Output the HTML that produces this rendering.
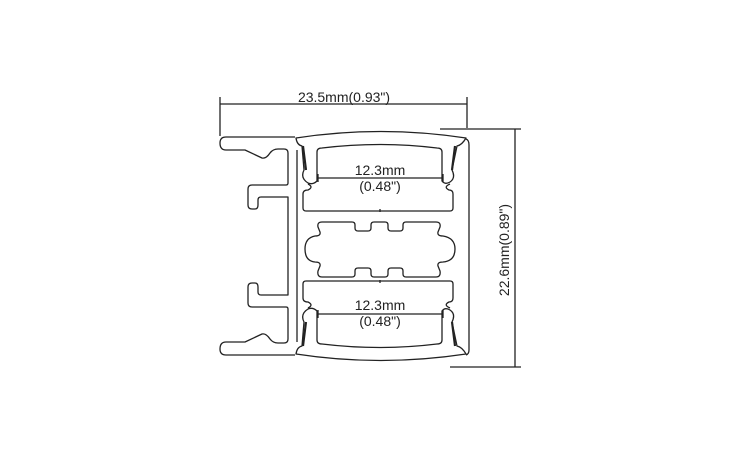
<!DOCTYPE html>
<html><head><style>
html,body{margin:0;padding:0;background:#fff;}
svg{display:block;}
text{font-family:"Liberation Sans",Arial,sans-serif;fill:#222;}
</style></head><body>
<svg width="740" height="460" viewBox="0 0 740 460" xmlns="http://www.w3.org/2000/svg">
<g fill="none" stroke="#222" stroke-width="1.3" stroke-linejoin="round">
<line x1="220" y1="97" x2="220" y2="136"/>
<line x1="467" y1="97" x2="467" y2="128"/>
<line x1="220" y1="104" x2="467" y2="104"/>
<line x1="440" y1="129" x2="521" y2="129"/>
<line x1="450" y1="367" x2="521" y2="367"/>
<line x1="515" y1="129" x2="515" y2="367"/>

<path d="M466 139 Q469 140 469 145 L469 350 Q469 354 466 355"/>

<g id="half">
<path d="M295 137 L226 137 Q220 137 220 143 Q220 150 226 150 L245 150 L262 158 Q266 159 270 153 Q273 149 278 149 L284 149 Q288 149 288 153 L288 183 Q288 185 286 185 L252 185 Q248 185 248 189 L248 205 Q248 209 252 209 L255 209 Q258 209 258 205 L258 200 Q258 197 261 197 L288 197 L288 246"/>
<line x1="297" y1="150" x2="297" y2="246"/>
<path d="M296 138 Q380 125 466 138 Q462 145 457 146 L452 170 Q456 178 450 182 Q445 185 442 181 L442 152 Q442 148 437 148 Q380 141 322 148 Q317 148 317 152 L317 181 Q313 185 308 183 Q300 178 304 170 L302 146 Q297 145 296 138 Z"/>
<path d="M303 146 L306 170" stroke-width="2.2"/>
<path d="M455 146 L452 170" stroke-width="2.2"/>
<path d="M308 184 Q314 187 308 190 Q303 190 303 194 L303 208 Q303 211 306 211 L450 211 Q453 211 453 208 L453 194 Q453 190 449 190 Q443 187 450 184"/>
<line x1="380" y1="209" x2="380" y2="212"/>
<line x1="318" y1="178" x2="443" y2="178"/>
<line x1="318" y1="174" x2="318" y2="182"/>
<line x1="443" y1="174" x2="443" y2="182"/>
</g>
<use href="#half" transform="translate(0,492) scale(1,-1)"/>

<path d="M322 222 L352 222 Q355 222 355 225 L355 228 Q355 231 358 231 L368 231 Q371 231 371 228 L371 225 Q371 222 374 222 L385 222 Q388 222 388 225 L388 228 Q388 231 391 231 L400 231 Q403 231 403 228 L403 225 Q403 222 406 222 L436 222 Q441 222 440 227 L438 232 Q437 236 443 236 Q455 238 455 249 Q455 261 443 262 Q437 262 438 266 L440 271 Q441 277 436 277 L406 277 Q403 277 403 274 L403 271 Q403 268 400 268 L391 268 Q388 268 388 271 L388 274 Q388 277 385 277 L374 277 Q371 277 371 274 L371 271 Q371 268 368 268 L358 268 Q355 268 355 271 L355 274 Q355 277 352 277 L322 277 Q317 277 318 271 L320 266 Q321 262 315 262 Q305 261 305 249 Q305 238 315 236 Q321 236 320 232 L318 227 Q317 222 322 222 Z"/>
</g>
<text x="344" y="102" font-size="14" text-anchor="middle">23.5mm(0.93")</text>
<text x="380" y="175" font-size="14" text-anchor="middle">12.3mm</text>
<text x="380" y="191" font-size="14" text-anchor="middle">(0.48")</text>
<text x="380" y="310" font-size="14" text-anchor="middle">12.3mm</text>
<text x="380" y="326" font-size="14" text-anchor="middle">(0.48")</text>
<text x="0" y="0" font-size="14" text-anchor="middle" transform="translate(509,250) rotate(-90)">22.6mm(0.89")</text>
</svg>
</body></html>
